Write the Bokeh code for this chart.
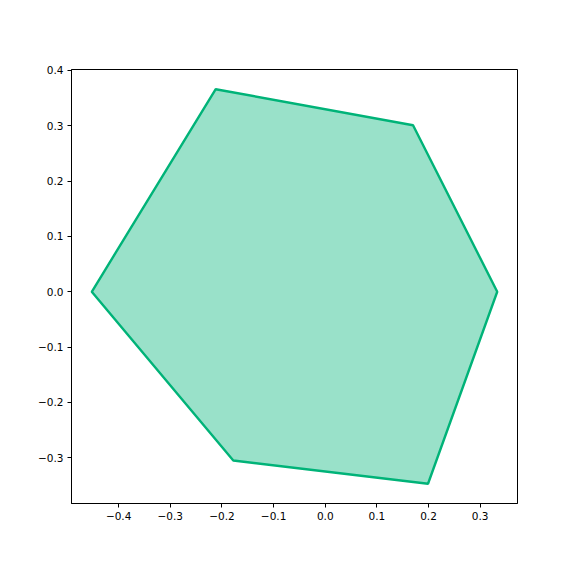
from bokeh.plotting import figure
from bokeh.models import FixedTicker, CustomJSTickFormatter, Range1d
from bokeh.embed import file_html
from bokeh.resources import INLINE

xs = [-0.452, -0.212, 0.170, 0.333, 0.199, -0.178]
ys = [0.0, 0.366, 0.301, 0.0, -0.347, -0.305]
xticks = [-0.4, -0.3, -0.2, -0.1, 0.0, 0.1, 0.2, 0.3]
yticks = [-0.3, -0.2, -0.1, 0.0, 0.1, 0.2, 0.3, 0.4]

xmin, xmax = min(xs), max(xs)
ymin, ymax = min(ys), max(ys)
mx = 0.05 * (xmax - xmin)
my = 0.05 * (ymax - ymin)

p = figure(width=560, height=560, output_backend="svg", toolbar_location=None,
           x_range=Range1d(xmin - mx, xmax + mx), y_range=Range1d(ymin - my, ymax + my),
           min_border_left=71, min_border_top=69, min_border_right=43, min_border_bottom=57)
p.grid.visible = False
p.background_fill_color = "white"
p.border_fill_color = "white"
p.outline_line_color = "black"
p.outline_line_width = 1
p.outline_line_alpha = 1

p.patch(xs, ys, fill_color="#00b378", fill_alpha=0.4, line_color="#00b378", line_width=2.4)

fmt = CustomJSTickFormatter(code="var s = tick.toFixed(1); if (Math.abs(tick) < 1e-9) s = '0.0'; return s.replace('-', '\\u2212');")
for ax, t in ((p.xaxis, xticks), (p.yaxis, yticks)):
    ax.ticker = FixedTicker(ticks=t)
    ax.formatter = fmt
    ax.major_tick_in = 0
    ax.major_tick_out = 4
    ax.minor_tick_line_color = None
    ax.axis_line_color = "black"
    ax.major_tick_line_color = "black"
    ax.major_label_text_font = "DejaVu Sans"
    ax.major_label_text_font_size = "10.5px"
    ax.major_label_text_color = "black"
    ax.major_label_standoff = 4

out = file_html(p, INLINE)
open("out.html", "w").write(out)
